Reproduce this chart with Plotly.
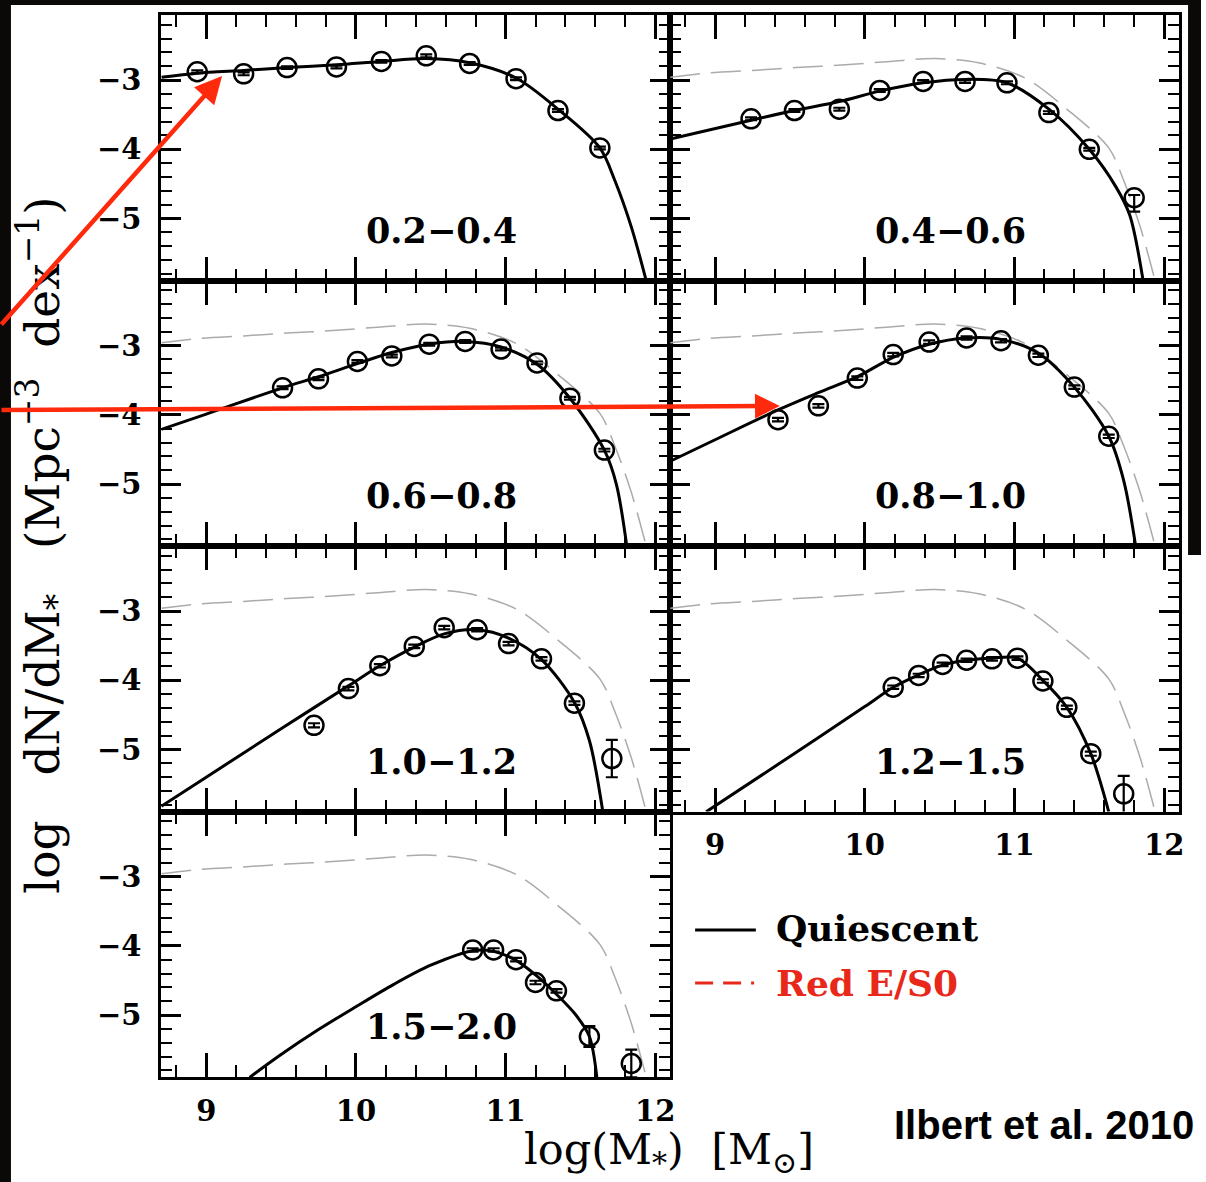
import plotly.graph_objects as go

W, H = 1206, 1182

# ---------------- data ----------------
panel_labels = ["0.2\u22120.4", "0.4\u22120.6", "0.6\u22120.8", "0.8\u22121.0",
                "1.0\u22121.2", "1.2\u22121.5", "1.5\u22122.0"]

# z = 0.2-0.4 (its fit is repeated as the grey dashed reference in the other panels)
z1_pts_x = [8.94, 9.25, 9.54, 9.87, 10.17, 10.47, 10.76, 11.07, 11.35, 11.63]
z1_pts_y = [-2.88, -2.91, -2.82, -2.81, -2.73, -2.65, -2.76, -2.98, -3.44, -3.98]
z1_err_up = [0.02] * 10
z1_err_dn = [0.02] * 10
z1_fit_x = [8.70, 8.94, 9.25, 9.54, 9.87, 10.17, 10.47, 10.76, 11.07, 11.35, 11.63, 11.73, 11.84, 11.94]
z1_fit_y = [-2.96, -2.90, -2.86, -2.82, -2.78, -2.73, -2.69, -2.75, -2.97, -3.42, -3.98, -4.45, -5.12, -5.90]

# z = 0.4-0.6
z2_pts_x = [9.24, 9.53, 9.83, 10.10, 10.39, 10.67, 10.95, 11.23, 11.50, 11.80]
z2_pts_y = [-3.56, -3.44, -3.42, -3.15, -3.02, -3.02, -3.04, -3.47, -4.00, -4.70]
z2_err_up = [0.02, 0.02, 0.02, 0.02, 0.02, 0.02, 0.02, 0.02, 0.02, 0.04]
z2_err_dn = [0.02, 0.02, 0.02, 0.02, 0.02, 0.02, 0.02, 0.02, 0.02, 0.20]
z2_fit_x = [8.70, 9.24, 9.53, 9.83, 10.10, 10.39, 10.67, 10.95, 11.23, 11.50, 11.68, 11.77, 11.86]
z2_fit_y = [-3.85, -3.58, -3.44, -3.31, -3.16, -3.04, -2.99, -3.04, -3.42, -4.00, -4.55, -4.95, -5.90]

# z = 0.6-0.8
z3_pts_x = [9.51, 9.75, 10.01, 10.24, 10.49, 10.73, 10.97, 11.21, 11.43, 11.66]
z3_pts_y = [-3.61, -3.48, -3.23, -3.15, -2.98, -2.94, -3.05, -3.25, -3.76, -4.51]
z3_err_up = [0.02] * 10
z3_err_dn = [0.02] * 10
z3_fit_x = [8.70, 9.00, 9.51, 9.75, 10.01, 10.24, 10.49, 10.73, 10.97, 11.21, 11.43, 11.66, 11.74, 11.81]
z3_fit_y = [-4.21, -3.99, -3.61, -3.45, -3.26, -3.10, -2.98, -2.94, -3.02, -3.27, -3.76, -4.51, -5.00, -5.90]

# z = 0.8-1.0
z4_pts_x = [9.42, 9.69, 9.95, 10.19, 10.43, 10.68, 10.91, 11.16, 11.40, 11.63]
z4_pts_y = [-4.07, -3.87, -3.47, -3.13, -2.95, -2.89, -2.93, -3.14, -3.60, -4.31]
z4_err_up = [0.025] * 10
z4_err_dn = [0.025] * 10
z4_fit_x = [8.70, 9.00, 9.42, 9.69, 9.95, 10.19, 10.43, 10.68, 10.91, 11.16, 11.40, 11.63, 11.73, 11.81]
z4_fit_y = [-4.67, -4.36, -3.93, -3.68, -3.45, -3.17, -2.98, -2.89, -2.91, -3.11, -3.60, -4.31, -4.95, -5.90]

# z = 1.0-1.2
z5_pts_x = [9.72, 9.95, 10.16, 10.39, 10.59, 10.81, 11.02, 11.24, 11.46, 11.71]
z5_pts_y = [-4.65, -4.12, -3.79, -3.51, -3.24, -3.27, -3.47, -3.69, -4.33, -5.13]
z5_err_up = [0.03, 0.025, 0.025, 0.025, 0.025, 0.025, 0.025, 0.025, 0.025, 0.27]
z5_err_dn = [0.03, 0.025, 0.025, 0.025, 0.025, 0.025, 0.025, 0.025, 0.025, 0.27]
z5_fit_x = [8.70, 9.00, 9.50, 9.95, 10.16, 10.39, 10.59, 10.81, 11.02, 11.24, 11.46, 11.56, 11.65]
z5_fit_y = [-5.82, -5.40, -4.70, -4.08, -3.79, -3.52, -3.33, -3.27, -3.39, -3.70, -4.32, -4.87, -5.90]

# z = 1.2-1.5
z6_pts_x = [10.19, 10.36, 10.52, 10.68, 10.85, 11.02, 11.19, 11.35, 11.51, 11.73]
z6_pts_y = [-4.10, -3.93, -3.77, -3.71, -3.69, -3.68, -4.01, -4.39, -5.06, -5.64]
z6_err_up = [0.025, 0.025, 0.025, 0.025, 0.025, 0.025, 0.025, 0.025, 0.03, 0.26]
z6_err_dn = [0.025, 0.025, 0.025, 0.025, 0.025, 0.025, 0.025, 0.025, 0.03, 0.30]
z6_fit_x = [8.94, 9.50, 10.00, 10.19, 10.36, 10.52, 10.68, 10.85, 11.02, 11.19, 11.35, 11.51, 11.63]
z6_fit_y = [-5.90, -5.10, -4.38, -4.10, -3.92, -3.78, -3.71, -3.68, -3.68, -4.00, -4.39, -5.06, -5.90]

# z = 1.5-2.0
z7_pts_x = [10.78, 10.92, 11.07, 11.20, 11.34, 11.56, 11.84]
z7_pts_y = [-4.06, -4.06, -4.20, -4.53, -4.65, -5.31, -5.70]
z7_err_up = [0.025, 0.025, 0.025, 0.025, 0.025, 0.15, 0.20]
z7_err_dn = [0.025, 0.025, 0.025, 0.025, 0.025, 0.15, 0.20]
z7_fit_x = [9.29, 9.50, 9.75, 10.00, 10.25, 10.50, 10.78, 10.92, 11.07, 11.20, 11.34, 11.47, 11.56, 11.61]
z7_fit_y = [-5.90, -5.57, -5.21, -4.88, -4.56, -4.28, -4.07, -4.08, -4.21, -4.42, -4.70, -5.00, -5.31, -5.90]

ref_fit_x = z1_fit_x
ref_fit_y = z1_fit_y

x_ticks = [9, 10, 11, 12]
y_ticks = [-3, -4, -5]

panels = [
    (z1_pts_x, z1_pts_y, z1_err_up, z1_err_dn, z1_fit_x, z1_fit_y),
    (z2_pts_x, z2_pts_y, z2_err_up, z2_err_dn, z2_fit_x, z2_fit_y),
    (z3_pts_x, z3_pts_y, z3_err_up, z3_err_dn, z3_fit_x, z3_fit_y),
    (z4_pts_x, z4_pts_y, z4_err_up, z4_err_dn, z4_fit_x, z4_fit_y),
    (z5_pts_x, z5_pts_y, z5_err_up, z5_err_dn, z5_fit_x, z5_fit_y),
    (z6_pts_x, z6_pts_y, z6_err_up, z6_err_dn, z6_fit_x, z6_fit_y),
    (z7_pts_x, z7_pts_y, z7_err_up, z7_err_dn, z7_fit_x, z7_fit_y),
]

# ---------------- layout geometry (pixels) ----------------
col_px = [(162, 673), (673, 1184)]
row_px = [(15, 280.5), (280.5, 546), (546, 811.5), (811.5, 1077)]
grid = [(0, 0), (0, 1), (1, 0), (1, 1), (2, 0), (2, 1), (3, 0)]
x_label_panels = {5, 6}
XR = [8.7, 12.1]
YR = [-5.895, -2.06]

SERIF = "DejaVu Serif"
RED = "#ff2a0c"
DARK = "#0b0907"

fig = go.Figure()
layout = {}
annotations = []

for i, (r, c) in enumerate(grid):
    n = "" if i == 0 else str(i + 1)
    xa, ya = "x" + n, "y" + n
    px, py, eu, ed, fx, fy = panels[i]
    if i > 0:
        fig.add_trace(go.Scatter(x=ref_fit_x, y=ref_fit_y, xaxis=xa, yaxis=ya, mode="lines",
                                 line=dict(color="#ababab", width=1.5, dash="30px,11px",
                                           shape="spline", smoothing=0.9),
                                 hoverinfo="skip", showlegend=False))
    fig.add_trace(go.Scatter(x=fx, y=fy, xaxis=xa, yaxis=ya, mode="lines",
                             line=dict(color="black", width=3, shape="spline", smoothing=0.9),
                             showlegend=False))
    fig.add_trace(go.Scatter(x=px, y=py, xaxis=xa, yaxis=ya, mode="markers",
                             marker=dict(symbol="circle-open", size=19, color="black",
                                         line=dict(width=2.5, color="black")),
                             error_y=dict(type="data", symmetric=False, array=eu, arrayminus=ed,
                                          color="black", thickness=2.2, width=6),
                             cliponaxis=True, showlegend=False))

    common = dict(showline=True, linecolor="black", linewidth=3, mirror="allticks",
                  ticks="inside", tickcolor="black", showgrid=False, zeroline=False,
                  tickfont=dict(family=SERIF, size=29, color="black", weight="bold"))
    layout["xaxis" + n] = dict(
        domain=[col_px[c][0] / W, col_px[c][1] / W], anchor=ya, range=XR,
        tickmode="array", tickvals=x_ticks, ticklen=24, tickwidth=2.5,
        showticklabels=(i in x_label_panels), ticklabelstandoff=6,
        minor=dict(ticks="inside", tick0=9, dtick=0.2, ticklen=12, tickwidth=2, tickcolor="black"),
        **common)
    layout["yaxis" + n] = dict(
        domain=[1 - row_px[r][1] / H, 1 - row_px[r][0] / H], anchor=xa, range=YR,
        tickmode="array", tickvals=y_ticks, ticklen=20, tickwidth=2.5,
        showticklabels=(c == 0), ticklabelstandoff=11,
        minor=dict(ticks="inside", tick0=-3, dtick=0.2, ticklen=11, tickwidth=2, tickcolor="black"),
        **common)
    annotations.append(dict(xref=xa, yref=ya, x=10.57, y=-5.17, text=panel_labels[i],
                            showarrow=False, xanchor="center", yanchor="middle",
                            font=dict(family=SERIF, size=35, color="black", weight="bold")))

# axis titles
NB = "\u00a0"
annotations.append(dict(xref="paper", yref="paper", x=42 / W, y=1 - 545 / H,
                        text="log" + NB * 3 + "dN/dM<sub>*</sub>" + NB * 3 + "(Mpc<sup>\u22123</sup>" + NB * 2
                             + "dex<sup>\u22121</sup>)",
                        textangle=-90, showarrow=False, xanchor="center", yanchor="middle",
                        font=dict(family=SERIF, size=47, color="black")))
annotations.append(dict(xref="paper", yref="paper", x=672 / W, y=1 - 1152 / H,
                        text="log(M<sub>*</sub>)" + NB * 2 + "[M<sub>\u2299</sub>]",
                        showarrow=False, xanchor="center", yanchor="middle",
                        font=dict(family=SERIF, size=43, color="black")))

# legend (drawn by hand)
annotations.append(dict(xref="paper", yref="paper", x=777 / W, y=1 - 928 / H, text="Quiescent",
                        showarrow=False, xanchor="left", yanchor="middle",
                        font=dict(family=SERIF, size=36, color="black", weight="bold")))
annotations.append(dict(xref="paper", yref="paper", x=777 / W, y=1 - 983 / H, text="Red E/S0",
                        showarrow=False, xanchor="left", yanchor="middle",
                        font=dict(family=SERIF, size=36, color="#e8281a", weight="bold")))
# credit
annotations.append(dict(xref="paper", yref="paper", x=1201 / W, y=1 - 1125 / H, text="Ilbert et al. 2010",
                        showarrow=False, xanchor="right", yanchor="middle",
                        font=dict(family="Liberation Sans", size=40, color="black", weight="bold")))
# red arrows
annotations.append(dict(xref="paper", yref="paper", x=223 / W, y=1 - 76 / H, ax=-223, ay=250,
                        text="", showarrow=True, arrowhead=2, arrowsize=1.2, arrowwidth=4.5,
                        arrowcolor=RED, standoff=0))
annotations.append(dict(xref="paper", yref="paper", x=783 / W, y=1 - 406 / H, ax=-783, ay=4,
                        text="", showarrow=True, arrowhead=2, arrowsize=1.1, arrowwidth=4.5,
                        arrowcolor=RED, standoff=0))

shapes = [
    dict(type="rect", xref="paper", yref="paper", x0=0, x1=11 / W, y0=0, y1=1,
         fillcolor=DARK, line=dict(width=0), layer="below"),
    dict(type="rect", xref="paper", yref="paper", x0=0, x1=1, y0=1 - 5 / H, y1=1,
         fillcolor=DARK, line=dict(width=0), layer="below"),
    dict(type="rect", xref="paper", yref="paper", x0=1193 / W, x1=1, y0=1 - 555 / H, y1=1,
         fillcolor=DARK, line=dict(width=0), layer="below"),
    dict(type="line", xref="paper", yref="paper", x0=698 / W, x1=759 / W, y0=1 - 930 / H, y1=1 - 930 / H,
         line=dict(color="black", width=3)),
    dict(type="line", xref="paper", yref="paper", x0=698 / W, x1=760 / W, y0=1 - 983 / H, y1=1 - 983 / H,
         line=dict(color="#e8281a", width=3, dash="18px,10px,18px,10px,3px,100px")),
]

fig.update_layout(width=W, height=H, margin=dict(l=0, r=0, t=0, b=0),
                  paper_bgcolor="white", plot_bgcolor="white", showlegend=False,
                  annotations=annotations, shapes=shapes, **layout)

fig.write_html("out.html")
